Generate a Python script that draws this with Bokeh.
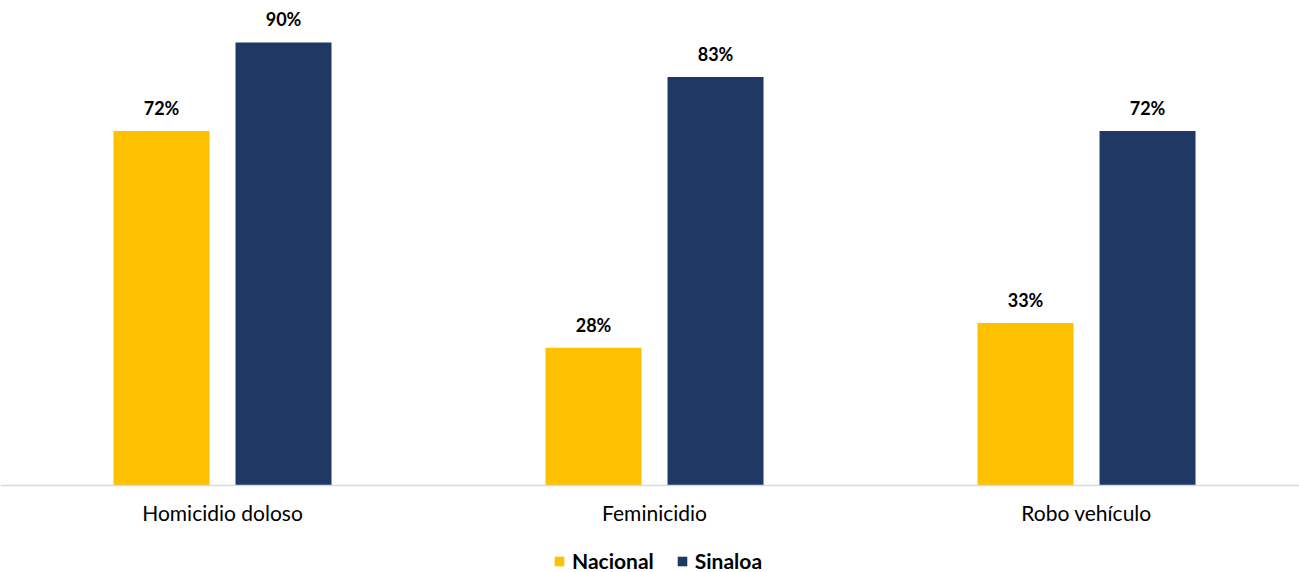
from bokeh.plotting import figure
from bokeh.models import ColumnDataSource, Range1d, Legend, LegendItem, Span
from bokeh.core.properties import value
from bokeh.embed import file_html
from bokeh.resources import INLINE

categories = ["Homicidio doloso", "Feminicidio", "Robo vehículo"]
nacional = [72, 28, 33]
sinaloa = [90, 83, 72]
series_names = ["Nacional", "Sinaloa"]
colors = ["#FFC000", "#203864"]

FONT = "Lato"
xs = list(range(len(categories)))
offset = 0.1412
bw = 0.2222

p = figure(width=1299, height=572, output_backend="svg", toolbar_location=None,
           x_range=Range1d(-0.5139, 2.493), y_range=Range1d(-17.68, 98.53),
           min_border_left=0, min_border_right=0, min_border_top=0, min_border_bottom=0)

renderers = []
for vals, dx, col in [(nacional, -offset, colors[0]), (sinaloa, offset, colors[1])]:
    src = ColumnDataSource(dict(x=[x + dx for x in xs], top=vals,
                                lab=[f"{v}%" for v in vals]))
    r = p.vbar(x="x", top="top", width=bw, source=src, color=col, line_color=None)
    renderers.append(r)
    p.text(x="x", y="top", text="lab", source=src, text_align="center",
           text_baseline="bottom", y_offset=-12, text_font=value(FONT),
           text_font_style="bold", text_font_size="18px", text_color="#000000")

# baseline (category axis line)
p.add_layout(Span(location=0, dimension="width", line_color="#D9D9D9", line_width=1.5))

# category labels
cat_src = ColumnDataSource(dict(x=xs, y=[0] * len(xs), t=categories))
p.text(x="x", y="y", text="t", source=cat_src, text_align="center", text_baseline="middle",
       y_offset=27, text_font=value(FONT), text_font_size="21px", text_color="#000000")

p.xaxis.visible = False
p.yaxis.visible = False
p.xgrid.visible = False
p.ygrid.visible = False
p.outline_line_color = None

legend = Legend(items=[LegendItem(label=n, renderers=[r]) for n, r in zip(series_names, renderers)],
                orientation="horizontal", location=(553, -1),
                label_text_font=FONT, label_text_font_style="bold",
                label_text_font_size="21px", label_text_color="#000000",
                glyph_width=12, glyph_height=12, label_height=16, spacing=22, label_standoff=7,
                border_line_color=None, background_fill_alpha=0, padding=0, margin=0)
p.add_layout(legend, "center")

open("out.html", "w").write(file_html(p, INLINE))
